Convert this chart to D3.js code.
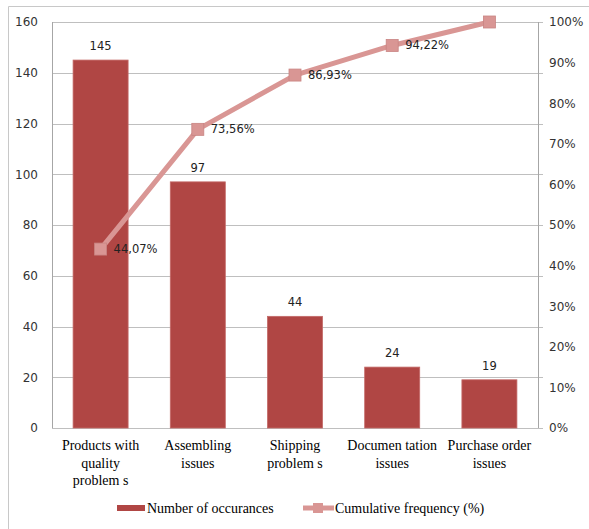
<!DOCTYPE html>
<html><head><meta charset="utf-8">
<script src="https://cdn.jsdelivr.net/npm/d3@7"></script>
<style>body{margin:0;background:#fff}svg{display:block}</style>
</head><body>
<svg id="c" width="589" height="529"></svg>
<script>
const categories = [["Products with","quality","problem s"],["Assembling","issues"],["Shipping","problem s"],["Documen tation","issues"],["Purchase order","issues"]];
const counts = [145, 97, 44, 24, 19];
const cumulative = [44.07, 73.56, 86.93, 94.22, 100];
const cumLabels = ["44,07%","73,56%","86,93%","94,22%",""];
const leftTicks = [0,20,40,60,80,100,120,140,160];
const rightTicks = [0,10,20,30,40,50,60,70,80,90,100];
const legendLabels = ["Number of occurances","Cumulative frequency (%)"];

const svg = d3.select("#c");
const L = 52, R = 538, T = 22, B = 428;
const x = d3.scaleBand().domain(d3.range(counts.length)).range([L, R]).paddingInner(0.434).paddingOuter(0.217);
const y = d3.scaleLinear().domain([0,160]).range([B, T]);
const y2 = d3.scaleLinear().domain([0,100]).range([B, T]);
const barColor = "#b04644", lineColor = "#d99694";
const sans = "'DejaVu Sans', Verdana, sans-serif", serif = "'Liberation Serif', 'Times New Roman', serif";

// outer border
svg.append("path").attr("d","M8.5,529V6.5H589").attr("fill","none").attr("stroke","#c8c8c8");

// gridlines
svg.append("g").selectAll("line").data(leftTicks).join("line")
  .attr("x1", L).attr("x2", R+5).attr("y1", d=>Math.round(y(d))+0.5).attr("y2", d=>Math.round(y(d))+0.5)
  .attr("stroke", "#bfbfbf");
svg.append("line").attr("x1",L+0.5).attr("x2",L+0.5).attr("y1",T).attr("y2",B).attr("stroke","#a6a6a6");
svg.append("line").attr("x1",R+0.5).attr("x2",R+0.5).attr("y1",T).attr("y2",B).attr("stroke","#a6a6a6");

const ly = d3.axisLeft(y).tickValues(leftTicks).tickSize(0).tickPadding(14);
const gl = svg.append("g").attr("transform",`translate(${L},0)`).call(ly);
gl.select(".domain").remove();
gl.selectAll("text").attr("font-family",sans).attr("font-size",12).attr("fill","#333");

const ry = d3.axisRight(y2).tickValues(rightTicks).tickFormat(d=>d+"%").tickSize(0).tickPadding(11);
const gr = svg.append("g").attr("transform",`translate(${R},0)`).call(ry);
gr.select(".domain").remove();
gr.selectAll("text").attr("font-family",sans).attr("font-size",12).attr("fill","#333");

// bars
svg.append("g").selectAll("rect").data(counts).join("rect")
  .attr("x",(d,i)=>x(i)).attr("width",x.bandwidth())
  .attr("y",d=>y(d)).attr("height",d=>B-y(d))
  .attr("fill",barColor).attr("stroke","#c46a68").attr("stroke-width",0.8);

svg.append("g").selectAll("text").data(counts).join("text")
  .attr("x",(d,i)=>x(i)+x.bandwidth()/2).attr("y",d=>y(d)-10)
  .attr("text-anchor","middle").attr("font-family",sans).attr("font-size",11.5).attr("fill","#222")
  .text(d=>d);

const cat = svg.append("g").selectAll("text").data(categories).join("text")
  .attr("x",(d,i)=>x(i)+x.bandwidth()/2).attr("y",450)
  .attr("text-anchor","middle").attr("font-family",serif).attr("font-size",14).attr("fill","#000");
cat.each(function(d,i){
  const t=d3.select(this);
  d.forEach((s,j)=>t.append("tspan").attr("x",x(i)+x.bandwidth()/2).attr("dy",j?17.5:0).text(s));
});

const cx = i => x(i)+x.bandwidth()/2;
const line = d3.line().x((d,i)=>cx(i)).y(d=>y2(d));
svg.append("path").datum(cumulative).attr("d",line).attr("fill","none")
  .attr("stroke",lineColor).attr("stroke-width",5).attr("stroke-linejoin","round");
svg.append("g").selectAll("rect").data(cumulative).join("rect")
  .attr("x",(d,i)=>cx(i)-6).attr("y",d=>y2(d)-6).attr("width",12).attr("height",12)
  .attr("fill",lineColor).attr("stroke","#c98482").attr("stroke-width",0.8);
svg.append("g").selectAll("text").data(cumulative).join("text")
  .attr("x",(d,i)=>cx(i)+13).attr("y",d=>y2(d)+4)
  .attr("font-family",sans).attr("font-size",11.5).attr("fill","#222")
  .text((d,i)=>cumLabels[i]);

const lg = svg.append("g");
lg.append("rect").attr("x",117).attr("y",505).attr("width",28).attr("height",6).attr("fill",barColor);
lg.append("text").attr("x",147).attr("y",513).attr("font-family",serif).attr("font-size",14).text(legendLabels[0]);
lg.append("line").attr("x1",303).attr("x2",334).attr("y1",508).attr("y2",508).attr("stroke",lineColor).attr("stroke-width",5);
lg.append("rect").attr("x",313).attr("y",503).attr("width",10).attr("height",10).attr("fill",lineColor);
lg.append("text").attr("x",335).attr("y",513).attr("font-family",serif).attr("font-size",14).text(legendLabels[1]);
</script>
</body></html>
